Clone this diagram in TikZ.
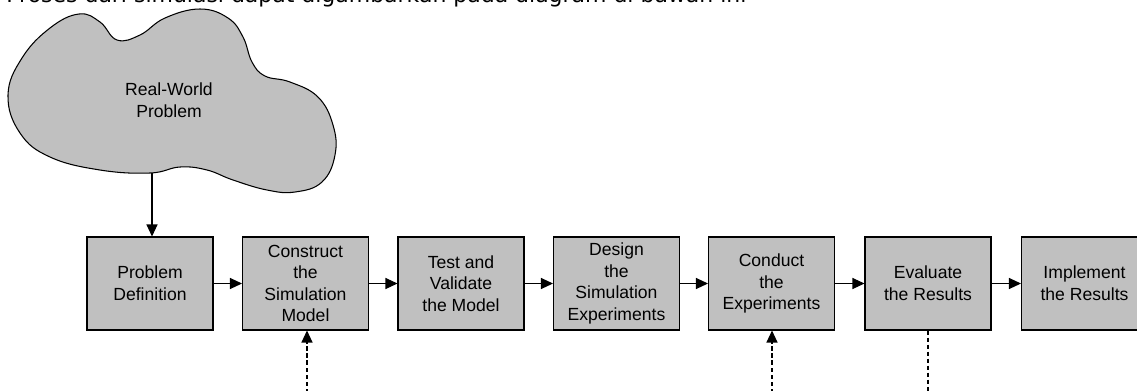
\documentclass[tikz,border=0pt]{standalone}
\usepackage{fontspec}
\setmainfont{Liberation Sans}
\newfontfamily\introfont{DejaVu Sans}
\usepackage{tikz}
\usetikzlibrary{arrows.meta}
\definecolor{boxgray}{RGB}{192, 192, 192}

\begin{document}
\begin{tikzpicture}[x=0.02cm,y=-0.02cm,
  stage/.style={draw=black,line width=0.6pt,fill=boxgray,minimum width=2.52cm,
    minimum height=1.86cm,inner sep=1pt,align=center,
    font=\fontsize{10}{12.3}\selectfont},
  flow/.style={line width=0.6pt,-{Triangle[length=2.4mm,width=2.2mm]}},
  dashflow/.style={flow,dash pattern=on 2.5pt off 1.5pt}]
\useasboundingbox (0,0) rectangle (1137,390);
\clip (0,0) rectangle (1137,390);

% Intro line (cut off at the top)
\node[anchor=base west,inner sep=0pt,font=\introfont\fontsize{12.5}{15}\selectfont]
  (intro) at (6,2) {Proses dari simulasi dapat digambarkan pada diagram di bawah ini};

% Cloud
\draw[line width=0.6pt,fill=boxgray] plot[smooth cycle,tension=0.7] coordinates {
  (8,95) (22,58) (50,28) (79,14) (100,22) (117,40) (140,35) (165,18) (200,9)
  (228,18) (243,37) (252,62) (265,76) (290,82) (318,97) (333,125) (335,155)
  (322,182) (295,192) (267,190) (233,180) (207,170) (180,167) (150,173)
  (100,170) (50,157) (20,133)};
\node[align=center,font=\fontsize{10}{12.3}\selectfont] (real) at (169,100) {Real-World\\Problem};
\coordinate (cloudbot) at (152,173);

% Stages
\node[stage] (def) at (150,283.5) {Problem\\Definition};
\node[stage] (model) at (305.5,283.5) {Construct\\the\\Simulation\\Model};
\node[stage] (test) at (461,283.5) {Test and\\Validate\\the Model};
\node[stage] (design) at (616.5,283.5) {Design\\the\\Simulation\\Experiments};
\node[stage] (conduct) at (771.5,283.5) {Conduct\\the\\Experiments};
\node[stage] (eval) at (928,283.5) {Evaluate\\the Results};
\node[stage] (impl) at (1084.5,283.5) {Implement\\the Results};

% Flow
\draw[flow] (cloudbot) -- (cloudbot |- def.north);
\draw[flow] (def) -- (model);
\draw[flow] (model) -- (test);
\draw[flow] (test) -- (design);
\draw[flow] (design) -- (conduct);
\draw[flow] (conduct) -- (eval);
\draw[flow] (eval) -- (impl);

% Dashed links from below
\coordinate (in1) at (307,400);
\coordinate (in2) at (772,400);
\coordinate (out1) at (928,400);
\draw[dashflow] (in1) -- (in1 |- model.south);
\draw[dashflow] (in2) -- (in2 |- conduct.south);
\draw[line width=0.6pt,dash pattern=on 2.5pt off 1.5pt] (eval.south) -- (out1);
\end{tikzpicture}
\end{document}
